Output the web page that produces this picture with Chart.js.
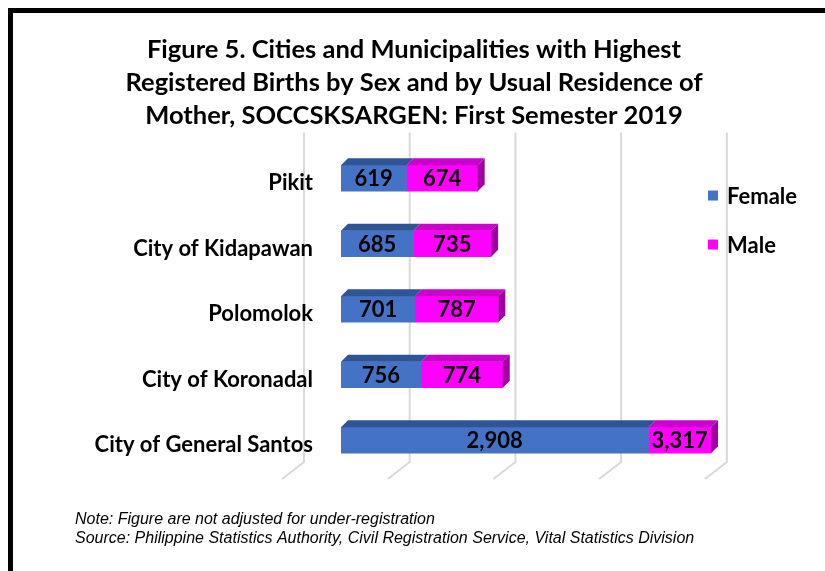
<!DOCTYPE html>
<html>
<head>
<meta charset="utf-8">
<script src="https://cdn.jsdelivr.net/npm/chart.js@4.4.1/dist/chart.umd.min.js"></script>
<style>
  html, body { margin: 0; padding: 0; background: #ffffff; }
  #wrap { position: relative; width: 825px; height: 571px; }
  #frame { position: absolute; left: 8px; top: 8px; width: 830px; height: 580px; border: 5px solid #000; box-sizing: border-box; pointer-events: none; }
  canvas { position: absolute; left: 0; top: 0; }
</style>
</head>
<body>
<div id="wrap">
  <canvas id="c" width="825" height="571"></canvas>
  <div id="frame"></div>
</div>
<script>
const categories = ["Pikit", "City of Kidapawan", "Polomolok", "City of Koronadal", "City of General Santos"];
const femaleValues = [619, 685, 701, 756, 2908];
const maleValues = [674, 735, 787, 774, 3317];
const seriesNames = ["Female", "Male"];
const titleLines = [
  "Figure 5. Cities and Municipalities with Highest",
  "Registered Births by Sex and by Usual Residence of",
  "Mother, SOCCSKSARGEN: First Semester 2019"
];
const noteLines = [
  "Note: Figure are not adjusted for under-registration",
  "Source: Philippine Statistics Authority, Civil Registration Service, Vital Statistics Division"
];
const axisMax = 3500;
const gridStep = 1000;
const gridMax = 4000;

const FONT = "Lato, 'Liberation Sans', sans-serif";
const NOTE_FONT = "'Liberation Sans', Arial, sans-serif";
const colors = {
  Female: { front: "#4472C4", top: "#2F5597", side: "#2F5597" },
  Male:   { front: "#FF00FF", top: "#CC00CC", side: "#A000A0" }
};
const DEPTH = 7;

// back-wall grid lines drawn from the x scale (behind labels and bars)
const gridPlugin = {
  id: "grid3d",
  beforeDraw(chart) {
    const xs = chart.scales.x, ca = chart.chartArea, ctx = chart.ctx;
    ctx.save();
    ctx.strokeStyle = "#d9d9d9";
    ctx.lineWidth = 2;
    for (let v = 0; v <= gridMax; v += gridStep) {
      const x = xs.getPixelForValue(v) - 37;
      const yTop = ca.top - 13, yBot = ca.bottom - 11;
      ctx.beginPath();
      ctx.moveTo(x, yTop);
      ctx.lineTo(x, yBot);
      ctx.lineTo(x - 22, yBot + 17);
      ctx.stroke();
    }
    ctx.restore();
  }
};

// 3D faces and value labels
const facePlugin = {
  id: "faces3d",
  afterDatasetsDraw(chart) {
    const ctx = chart.ctx, ca = chart.chartArea;
    const n = chart.data.datasets.length;
    ctx.save();
    chart.data.datasets.forEach((ds, di) => {
      const meta = chart.getDatasetMeta(di);
      const col = colors[ds.label];
      meta.data.forEach((bar, i) => {
        const p = bar.getProps(["x", "y", "base", "height"], true);
        const x0 = Math.min(p.base, ca.right);
        const x1 = Math.min(p.x, ca.right);
        const top = p.y - p.height / 2, bot = p.y + p.height / 2;
        if (x1 <= x0) return;
        ctx.fillStyle = col.top;
        ctx.beginPath();
        ctx.moveTo(x0, top);
        ctx.lineTo(x0 + DEPTH, top - DEPTH);
        ctx.lineTo(x1 + DEPTH, top - DEPTH);
        ctx.lineTo(x1, top);
        ctx.closePath();
        ctx.fill();
        if (di === n - 1) {
          ctx.fillStyle = col.side;
          ctx.beginPath();
          ctx.moveTo(x1, top);
          ctx.lineTo(x1 + DEPTH, top - DEPTH);
          ctx.lineTo(x1 + DEPTH, bot - DEPTH);
          ctx.lineTo(x1, bot);
          ctx.closePath();
          ctx.fill();
        }
      });
    });
    ctx.fillStyle = "#000";
    ctx.font = "bold 22px " + FONT;
    ctx.textAlign = "center";
    ctx.textBaseline = "middle";
    chart.data.datasets.forEach((ds, di) => {
      const meta = chart.getDatasetMeta(di);
      meta.data.forEach((bar, i) => {
        const p = bar.getProps(["x", "y", "base"], true);
        const x0 = Math.min(p.base, ca.right), x1 = Math.min(p.x, ca.right);
        ctx.fillText(ds.data[i].toLocaleString("en-US"), (x0 + x1) / 2, p.y + 1);
      });
    });
    ctx.restore();
  }
};

// legend to the right of the plot
const legendPlugin = {
  id: "legendRight",
  afterDraw(chart) {
    const ctx = chart.ctx, ca = chart.chartArea;
    ctx.save();
    ctx.font = "bold 22px " + FONT;
    ctx.textBaseline = "middle";
    ctx.textAlign = "left";
    chart.data.datasets.forEach((ds, di) => {
      const y = ca.top + 50 + di * 49;
      ctx.fillStyle = ds.backgroundColor;
      ctx.fillRect(ca.right - 3, y - 5, 10, 10);
      ctx.fillStyle = "#000";
      ctx.fillText(ds.label, ca.right + 16, y + 1);
    });
    ctx.restore();
  }
};

new Chart(document.getElementById("c"), {
  type: "bar",
  data: {
    labels: categories,
    datasets: [
      { label: seriesNames[0], data: femaleValues, backgroundColor: colors.Female.front, barThickness: 26 },
      { label: seriesNames[1], data: maleValues, backgroundColor: colors.Male.front, barThickness: 26 }
    ]
  },
  options: {
    indexAxis: "y",
    responsive: false,
    animation: false,
    devicePixelRatio: 1,
    layout: { padding: { left: 75, right: 72, top: 0, bottom: 0 } },
    scales: {
      x: { stacked: true, min: 0, max: axisMax, display: false },
      y: {
        stacked: true,
        grid: { display: false },
        border: { display: false },
        ticks: { color: "#000", padding: 20, labelOffset: 5, font: { family: FONT, size: 22, weight: "bold" } },
        afterFit(scale) { scale.width = 266; }
      },
      yRight: {
        type: "category",
        position: "right",
        grid: { display: false },
        border: { display: false },
        ticks: { display: false },
        afterFit(scale) { scale.width = 42; }
      }
    },
    plugins: {
      legend: { display: false },
      tooltip: { enabled: false },
      title: {
        display: true,
        text: titleLines,
        color: "#000",
        font: { family: FONT, size: 25.5, weight: "bold", lineHeight: 1.275 },
        padding: { top: 34, bottom: 14 }
      },
      subtitle: {
        display: true,
        position: "bottom",
        align: "start",
        text: noteLines,
        color: "#000",
        font: { family: NOTE_FONT, size: 16, style: "italic", lineHeight: 1.19 },
        padding: { top: 37, bottom: 23 }
      }
    }
  },
  plugins: [gridPlugin, facePlugin, legendPlugin]
});
</script>
</body>
</html>
